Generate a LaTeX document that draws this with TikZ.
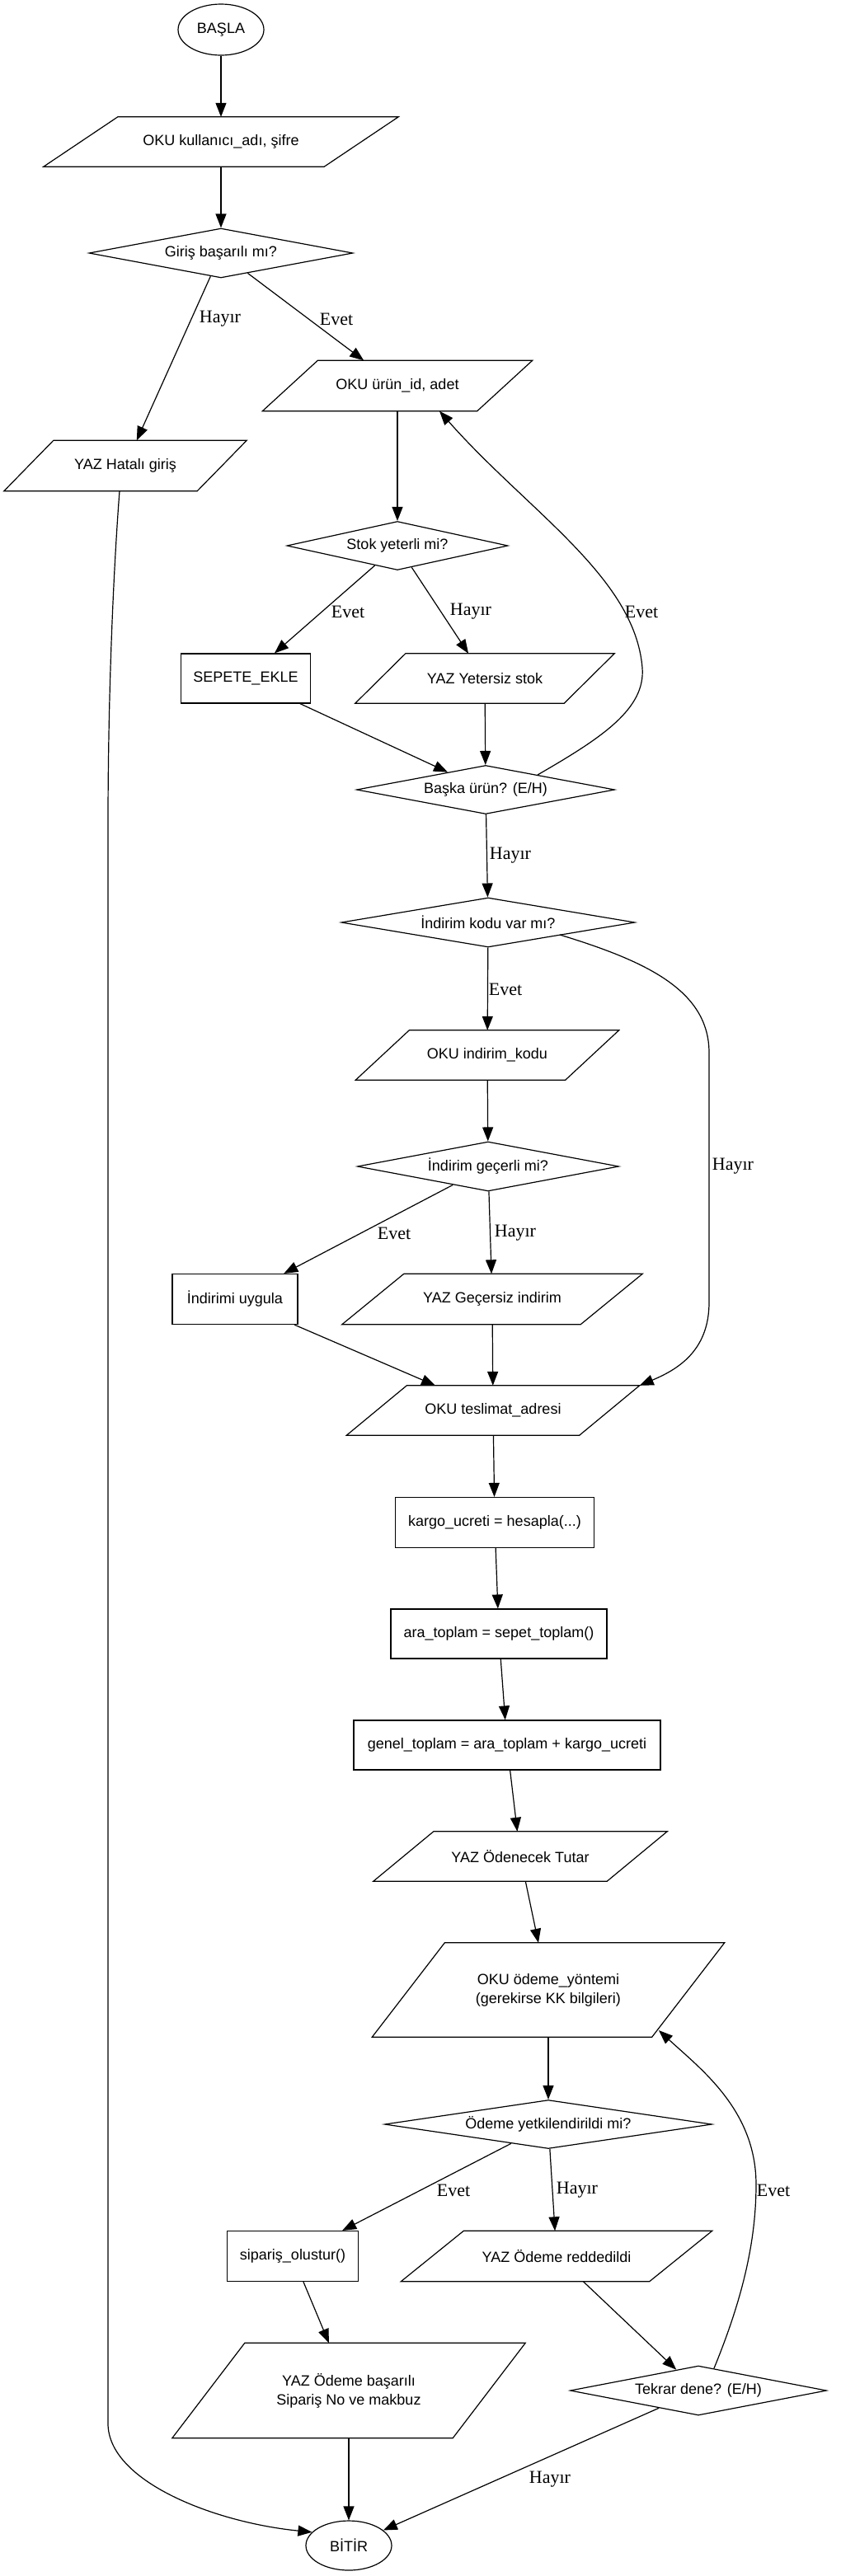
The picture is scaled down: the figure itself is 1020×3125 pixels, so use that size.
\documentclass[tikz,border=0pt]{standalone}
\usepackage{fontspec}
\setmainfont{Liberation Serif}
\newfontfamily\boxfont{Liberation Sans}
\usetikzlibrary{shapes.geometric,arrows.meta,calc}
\tikzset{
  shapeline/.style={draw=black, line width=1.2pt, line join=miter},
  boxtext/.style={font=\boxfont\fontsize{18}{23}\selectfont, align=center, text=black},
  iobox/.style={rectangle, draw=none, inner sep=0pt, boxtext},
  procbox/.style 2 args={rectangle, draw=black, line width=1.2pt, inner sep=0pt, minimum width=#1, minimum height=#2, boxtext},
  decbox/.style n args={3}{diamond, draw=black, line width=1.2pt, inner sep=0pt, minimum width=#1, minimum height=#2, aspect=#3, boxtext},
  termbox/.style 2 args={ellipse, draw=black, line width=1.2pt, inner sep=0pt, minimum width=#1, minimum height=#2, boxtext},
  conn/.style={line width=1.2pt, -{Triangle[length=17pt,width=13pt]}},
  lbl/.style={inner sep=0pt, font=\fontsize{22}{26}\selectfont},
}
\newcommand\ioshape[7]{%
  \node[iobox, minimum width={#4+#5}, minimum height=#6] (#1) at (#2,#3) {#7};
  \draw[shapeline] ($(#1.north west)+(#5,0)$) -- (#1.north east) -- ($(#1.south east)+(-#5,0)$) -- (#1.south west) -- cycle;
}
\begin{document}
\begin{tikzpicture}[x=1pt,y=-1pt]
\fill[white] (0,0) rectangle (1020,3125);
\useasboundingbox (0,0) rectangle (1020,3125);

% nodes
\node[termbox={104}{62}] (basla) at (268,36) {BAŞLA};
\ioshape{oku1}{268}{172}{340}{90}{60}{OKU kullanıcı\_adı, şifre}
\node[decbox={320}{60}{5.33}] (giris) at (268,307) {Giriş başarılı mı?};
\ioshape{hatali}{152}{565}{234}{60}{61}{YAZ Hatalı giriş}
\ioshape{urun}{482}{468}{260}{67}{61}{OKU ürün\_id, adet}
\node[decbox={268}{59}{4.54}] (stok) at (482,662) {Stok yeterli mi?};
\node[procbox={157}{60}] (sepete) at (298,823) {SEPETE\_EKLE};
\ioshape{yetersiz}{588}{823}{253}{61}{60}{YAZ Yetersiz stok}
\node[decbox={313}{59}{5.3}] (baska) at (589,958) {Başka ürün? (E/H)};
\node[decbox={356}{60}{5.93}] (indkod) at (592,1119) {İndirim kodu var mı?};
\ioshape{okuind}{591}{1280}{254}{65}{60}{OKU indirim\_kodu}
\node[decbox={317}{60}{5.28}] (indgec) at (592,1415) {İndirim geçerli mi?};
\node[procbox={152}{61}] (uygula) at (285,1576) {İndirimi uygula};
\ioshape{gecersiz}{597}{1576}{289}{75}{61}{YAZ Geçersiz indirim}
\ioshape{teslimat}{598}{1711}{282}{73}{60}{OKU teslimat\_adresi}
\node[procbox={241}{61}] (kargo) at (600,1847) {kargo\_ucreti = hesapla(...)};
\node[procbox={262}{60}] (ara) at (605,1982) {ara\_toplam = sepet\_toplam()};
\node[procbox={372}{60}] (genel) at (615,2117) {genel\_toplam = ara\_toplam + kargo\_ucreti};
\ioshape{odenecek}{631}{2252}{283}{73}{60}{YAZ Ödenecek Tutar}
\ioshape{odeme}{665}{2414}{339}{88}{114}{OKU ödeme\_yöntemi\\(gerekirse KK bilgileri)}
\node[decbox={397}{59}{6.73}] (yetki) at (665,2577) {Ödeme yetkilendirildi mi?};
\node[procbox={159}{61}] (siparis) at (355,2737) {sipariş\_olustur()};
\ioshape{red}{675}{2737}{301}{76}{61}{YAZ Ödeme reddedildi}
\ioshape{basarili}{423}{2900}{340}{88}{115}{YAZ Ödeme başarılı\\Sipariş No ve makbuz}
\node[decbox={311}{60}{5.18}] (tekrar) at (847,2900) {Tekrar dene? (E/H)};
\node[termbox={104}{60}] (bitir) at (423,3088) {BİTİR};

% connectors
\draw[conn] (basla) -- (oku1);
\draw[conn] (oku1) -- (giris);
\draw[conn] (giris) -- (hatali);
\draw[conn] (giris) -- (urun);
\draw[conn] (urun) -- (stok);
\draw[conn] (stok) -- (sepete);
\draw[conn] (stok) -- (yetersiz);
\draw[conn] (sepete) -- (baska);
\draw[conn] (yetersiz) -- (baska);
\draw[conn] ($(baska)+(63,-18)$) .. controls (730,895) and (783,860) .. (779,810) .. controls (770,700) and (640,620) .. ([xshift=51pt]urun.south);
\draw[conn] (baska) -- (indkod);
\draw[conn] (indkod) -- (okuind);
\draw[conn] (okuind) -- (indgec);
\draw[conn] (indgec) -- (uygula);
\draw[conn] (indgec) -- (gecersiz);
\draw[conn] ($(indkod)+(87,15)$) .. controls (780,1165) and (860,1200) .. (860,1277) -- (860,1580) .. controls (860,1640) and (820,1662) .. (teslimat.north east);
\draw[conn] (uygula) -- (teslimat);
\draw[conn] (gecersiz) -- (teslimat);
\draw[conn] (teslimat) -- (kargo);
\draw[conn] (kargo) -- (ara);
\draw[conn] (ara) -- (genel);
\draw[conn] (genel) -- (odenecek);
\draw[conn] (odenecek) -- (odeme);
\draw[conn] (odeme) -- (yetki);
\draw[conn] (yetki) -- (siparis);
\draw[conn] (yetki) -- (red);
\draw[conn] (siparis) -- (basarili);
\draw[conn] (red) -- (tekrar);
\draw[conn] ($(tekrar)+(19,-27)$) .. controls (900,2790) and (917,2720) .. (917,2650) .. controls (917,2560) and (850,2510) .. ($(odeme)+(134,49)$);
\draw[conn] (basarili) -- (bitir);
\draw[conn] (tekrar) -- (bitir);
\draw[conn] ([xshift=-7pt]hatali.south) .. controls (137,700) and (131,850) .. (131,1000) -- (131,2940) .. controls (131,3010) and (260,3060) .. (bitir.160);

% labels
\node[lbl] (l1) at (267,387) {Hayır};
\node[lbl] (l2) at (408,387) {Evet};
\node[lbl] (l3) at (422,742) {Evet};
\node[lbl] (l4) at (571,742) {Hayır};
\node[lbl] (l5) at (778,742) {Evet};
\node[lbl] (l6) at (619,1038) {Hayır};
\node[lbl] (l7) at (613,1200) {Evet};
\node[lbl] (l8) at (478,1496) {Evet};
\node[lbl] (l9) at (625,1496) {Hayır};
\node[lbl] (l10) at (889,1415) {Hayır};
\node[lbl] (l11) at (550,2657) {Evet};
\node[lbl] (l12) at (700,2657) {Hayır};
\node[lbl] (l13) at (938,2657) {Evet};
\node[lbl] (l14) at (667,3008) {Hayır};
\end{tikzpicture}
\end{document}
